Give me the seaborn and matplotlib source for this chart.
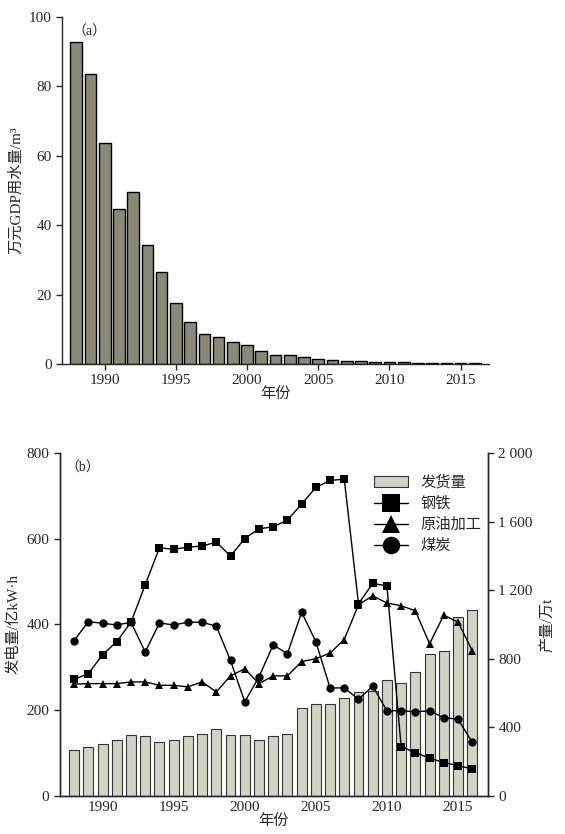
import numpy as np
import pandas as pd
import seaborn as sns
import matplotlib.pyplot as plt
from matplotlib.ticker import FuncFormatter

years = list(range(1988, 2017))

# (a) water use per 10^4 yuan GDP, m3
water_use = [92.8, 83.6, 63.8, 44.6, 49.6, 34.3, 26.5, 17.7, 12.1, 8.8,
             7.7, 6.4, 5.5, 3.7, 2.5, 2.5, 1.9, 1.4, 1.1, 0.9,
             0.75, 0.7, 0.5, 0.45, 0.4, 0.35, 0.3, 0.25, 0.2]

# (b) power generation, 10^8 kW·h (left axis)
power = [108, 115, 122, 130, 142, 139, 127, 131, 139, 144,
         156, 142, 143, 131, 140, 144, 204, 215, 215, 229,
         243, 245, 270, 264, 290, 332, 339, 418, 434]

# (b) production, 10^4 t (right axis)
steel = [680, 713, 823, 900, 1013, 1231, 1447, 1438, 1451, 1457,
         1480, 1399, 1501, 1558, 1569, 1608, 1702, 1799, 1840, 1847,
         1121, 1239, 1225, 288, 253, 220, 195, 176, 158]
crude = [652, 655, 655, 655, 665, 665, 645, 645, 636, 665,
         607, 700, 742, 655, 700, 700, 784, 800, 833, 912,
         1115, 1167, 1125, 1109, 1080, 887, 1055, 1013, 848]
coal = [906, 1016, 1007, 997, 1013, 839, 1009, 997, 1013, 1013,
        990, 790, 549, 694, 881, 829, 1071, 900, 630, 630,
        564, 640, 497, 497, 491, 497, 456, 448, 313]

sns.set_style("ticks")
plt.rcParams['font.family'] = ['Liberation Serif', 'Noto Sans CJK SC']
plt.rcParams['axes.linewidth'] = 1.0

fig = plt.figure(figsize=(5.65, 8.34), dpi=100)

# ---- panel (a)
ax1 = fig.add_axes([0.1097, 0.5635, 0.756, 0.416])
sns.barplot(x=years, y=water_use, native_scale=True, color="#8a8a74",
            saturation=1, edgecolor="black", linewidth=1, width=0.82,
            errorbar=None, ax=ax1)
ax1.set_xlim(1987, 2017)
ax1.set_ylim(0, 100)
ax1.set_yticks(range(0, 101, 20))
ax1.set_xticks(range(1990, 2016, 5))
ax1.tick_params(labelsize=11, length=4, width=1)
ax1.set_xlabel("年份", fontsize=11, labelpad=0)
ax1.set_ylabel("万元GDP用水量/m³", fontsize=11, labelpad=4)
ax1.text(0.025, 0.975, "（a）", transform=ax1.transAxes, fontsize=10,
         va="top", ha="left")
sns.despine(ax=ax1)

# ---- panel (b)
ax2 = fig.add_axes([0.106, 0.0456, 0.7575, 0.4113])
sns.barplot(x=years, y=power, native_scale=True, color="#d3d3c4",
            saturation=1, edgecolor="#333333", linewidth=0.8, width=0.7,
            errorbar=None, ax=ax2, label="发货量")
ax2.set_xlim(1987, 2017.1)
ax2.set_ylim(0, 800)
ax2.set_yticks(range(0, 801, 200))
ax2.set_xticks(range(1990, 2016, 5))
ax2.tick_params(labelsize=11, length=4, width=1)
ax2.tick_params(axis="x", direction="in")
ax2.set_xlabel("年份", fontsize=11, labelpad=0)
ax2.set_ylabel("发电量/亿kW·h", fontsize=11, labelpad=4)
ax2.text(0.012, 0.975, "（b）", transform=ax2.transAxes, fontsize=10,
         va="top", ha="left")

ax3 = ax2.twinx()
line_kw = dict(color="black", linewidth=1, markersize=6, markeredgewidth=0)
sns.lineplot(x=years, y=steel, marker="s", ax=ax3, label="钢铁", **line_kw)
sns.lineplot(x=years, y=crude, marker="^", ax=ax3, label="原油加工", **line_kw)
sns.lineplot(x=years, y=coal, marker="o", ax=ax3, label="煤炭", **line_kw)
ax3.set_ylim(0, 2000)
ax3.set_yticks(range(0, 2001, 400))
ax3.yaxis.set_major_formatter(FuncFormatter(lambda v, p: f"{int(v):,}".replace(",", " ")))
ax3.tick_params(labelsize=11, length=4, width=1)
ax3.set_ylabel("产量/万t", fontsize=11, labelpad=6)
for a in (ax2, ax3):
    a.spines["top"].set_visible(False)

h2, l2 = ax2.get_legend_handles_labels()
h3, l3 = ax3.get_legend_handles_labels()
ax3.legend(h2 + h3, l2 + l3, loc="upper left", bbox_to_anchor=(0.638, 0.447),
           bbox_transform=fig.transFigure, frameon=False, fontsize=11,
           markerscale=2.1, handlelength=2.2, labelspacing=0.45)
if ax2.get_legend() is not None:
    ax2.get_legend().remove()

fig.savefig("out.png", dpi=100)
